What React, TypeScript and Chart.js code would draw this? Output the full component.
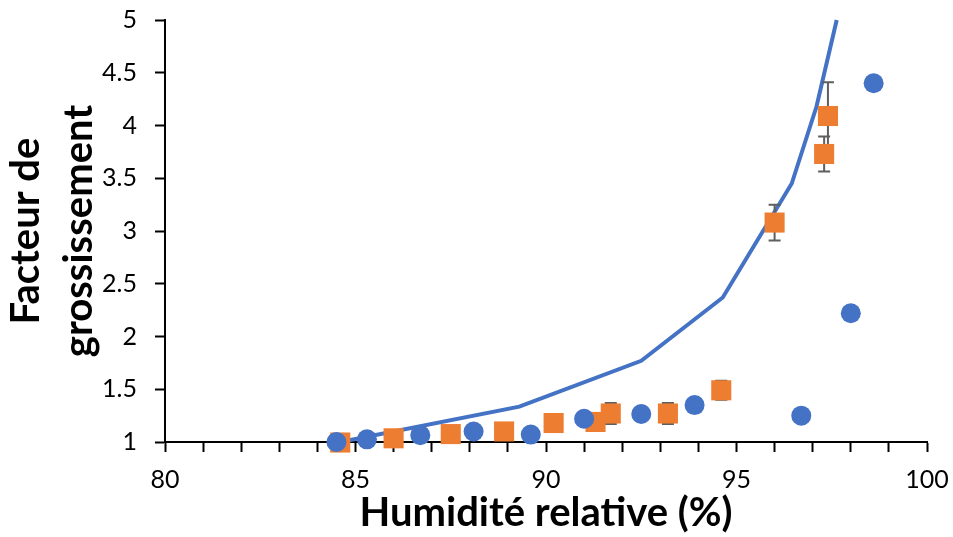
import React, { useEffect, useRef } from "react";
import { Chart, registerables } from "chart.js";

Chart.register(...registerables);

// Measured data (blue circles)
const blueX = [84.5, 85.3, 86.7, 88.1, 89.6, 91.0, 92.5, 93.9, 96.7, 98.0, 98.6];
const blueY = [1.0, 1.025, 1.065, 1.1, 1.07, 1.22, 1.265, 1.35, 1.25, 2.22, 4.4];

// Measured data (orange squares) with symmetric error
const orangeX = [84.6, 86.0, 87.5, 88.9, 90.2, 91.3, 91.7, 93.2, 94.6, 96.0, 97.3, 97.4];
const orangeY = [0.995, 1.035, 1.075, 1.1, 1.18, 1.19, 1.27, 1.27, 1.49, 3.08, 3.73, 4.09];
const orangeErr = [0, 0, 0, 0, 0, 0.03, 0.1, 0.1, 0.09, 0.17, 0.165, 0.32];

// Model curve (blue line)
const lineX = [84.6, 89.3, 92.5, 94.64, 96.45, 97.1, 97.63];
const lineY = [1.0, 1.335, 1.77, 2.37, 3.45, 4.18, 5.0];

// Axes
const xTickLabels = ["80", "85", "90", "95", "100"];
const yTickLabels = ["1", "1.5", "2", "2.5", "3", "3.5", "4", "4.5", "5"];
const xTitle = "Humidité relative (%)";
const yTitle = ["Facteur de", "grossissement"];

const FONT = "Lato, 'Open Sans', sans-serif";

const errorBarPlugin = {
  id: "errorBars",
  beforeDatasetDraw(chart: any, args: any) {
    if (args.index !== 1) return;
    const { ctx, scales } = chart;
    const xs = scales.x;
    const ys = scales.y;
    ctx.save();
    ctx.strokeStyle = "#5f5f5f";
    ctx.lineWidth = 2;
    const cap = 6;
    orangeX.forEach((xv, i) => {
      const e = orangeErr[i];
      if (!e) return;
      const px = xs.getPixelForValue(xv);
      const top = ys.getPixelForValue(orangeY[i] + e);
      const bot = ys.getPixelForValue(orangeY[i] - e);
      ctx.beginPath();
      ctx.moveTo(px, top);
      ctx.lineTo(px, bot);
      ctx.moveTo(px - cap, top);
      ctx.lineTo(px + cap, top);
      ctx.moveTo(px - cap, bot);
      ctx.lineTo(px + cap, bot);
      ctx.stroke();
    });
    ctx.restore();
  },
};

const zeroPad = (s: any) => {
  s.paddingTop = 0;
  s.paddingBottom = 0;
  s.paddingLeft = 0;
  s.paddingRight = 0;
};

export default function App() {
  const ref = useRef<HTMLCanvasElement | null>(null);
  useEffect(() => {
    if (!ref.current) return;
    const chart = new Chart(ref.current, {
      type: "scatter",
      data: {
        datasets: [
          {
            label: "blue",
            data: blueX.map((x, i) => ({ x, y: blueY[i] })),
            backgroundColor: "#4472C4",
            borderWidth: 0,
            pointRadius: 10,
            pointStyle: "circle",
            order: 0,
            clip: false,
          } as any,
          {
            label: "orange",
            data: orangeX.map((x, i) => ({ x, y: orangeY[i] })),
            backgroundColor: "#ED7D31",
            borderWidth: 0,
            pointRadius: 14.2,
            pointStyle: "rect",
            order: 1,
            clip: false,
          } as any,
          {
            label: "model",
            data: lineX.map((x, i) => ({ x, y: lineY[i] })),
            showLine: true,
            borderColor: "#4472C4",
            borderWidth: 4,
            pointRadius: 0,
            fill: false,
            order: 2,
            clip: false,
          } as any,
        ],
      },
      options: {
        animation: false,
        responsive: false,
        devicePixelRatio: 1,
        layout: { padding: { left: 0, right: 26, top: 20, bottom: 0 } },
        plugins: {
          legend: { display: false },
          tooltip: { enabled: false },
        },
        scales: {
          x: {
            type: "linear",
            min: 80,
            max: 100,
            afterFit: (s: any) => {
              s.height = 95;
              zeroPad(s);
            },
            ticks: {
              stepSize: 1,
              autoSkip: false,
              maxRotation: 0,
              padding: 13,
              color: "#000",
              font: { family: FONT, size: 25 },
              callback: (v: any) => {
                const idx = xTickLabels.indexOf(String(v));
                return idx >= 0 ? xTickLabels[idx] : "";
              },
            },
            grid: {
              drawOnChartArea: false,
              drawTicks: true,
              tickLength: 10,
              tickWidth: 2,
              tickColor: "#000",
            },
            border: { display: true, color: "#000", width: 2 },
            title: {
              display: true,
              text: xTitle,
              color: "#000",
              font: { family: FONT, size: 40, weight: "bold" },
              padding: { top: 0, bottom: 0 },
            },
          },
          y: {
            type: "linear",
            min: 1,
            max: 5,
            afterFit: (s: any) => {
              s.width = 165;
              zeroPad(s);
            },
            ticks: {
              stepSize: 0.5,
              padding: 18,
              color: "#000",
              font: { family: FONT, size: 25 },
              callback: (v: any) => {
                const idx = yTickLabels.indexOf(String(v));
                return idx >= 0 ? yTickLabels[idx] : "";
              },
            },
            grid: {
              drawOnChartArea: false,
              drawTicks: true,
              tickLength: 10,
              tickWidth: 2,
              tickColor: "#000",
            },
            border: { display: true, color: "#000", width: 2 },
            title: {
              display: true,
              text: yTitle,
              color: "#000",
              font: { family: FONT, size: 40, weight: "bold", lineHeight: 1.32 },
              padding: { top: 0, bottom: 0 },
            },
          },
        },
      } as any,
      plugins: [errorBarPlugin],
    });
    return () => chart.destroy();
  }, []);

  return (
    <div style={{ position: "absolute", left: 0, top: 0, width: 953, height: 537, background: "#fff" }}>
      <canvas ref={ref} width={953} height={537} style={{ display: "block", width: 953, height: 537 }} />
    </div>
  );
}
